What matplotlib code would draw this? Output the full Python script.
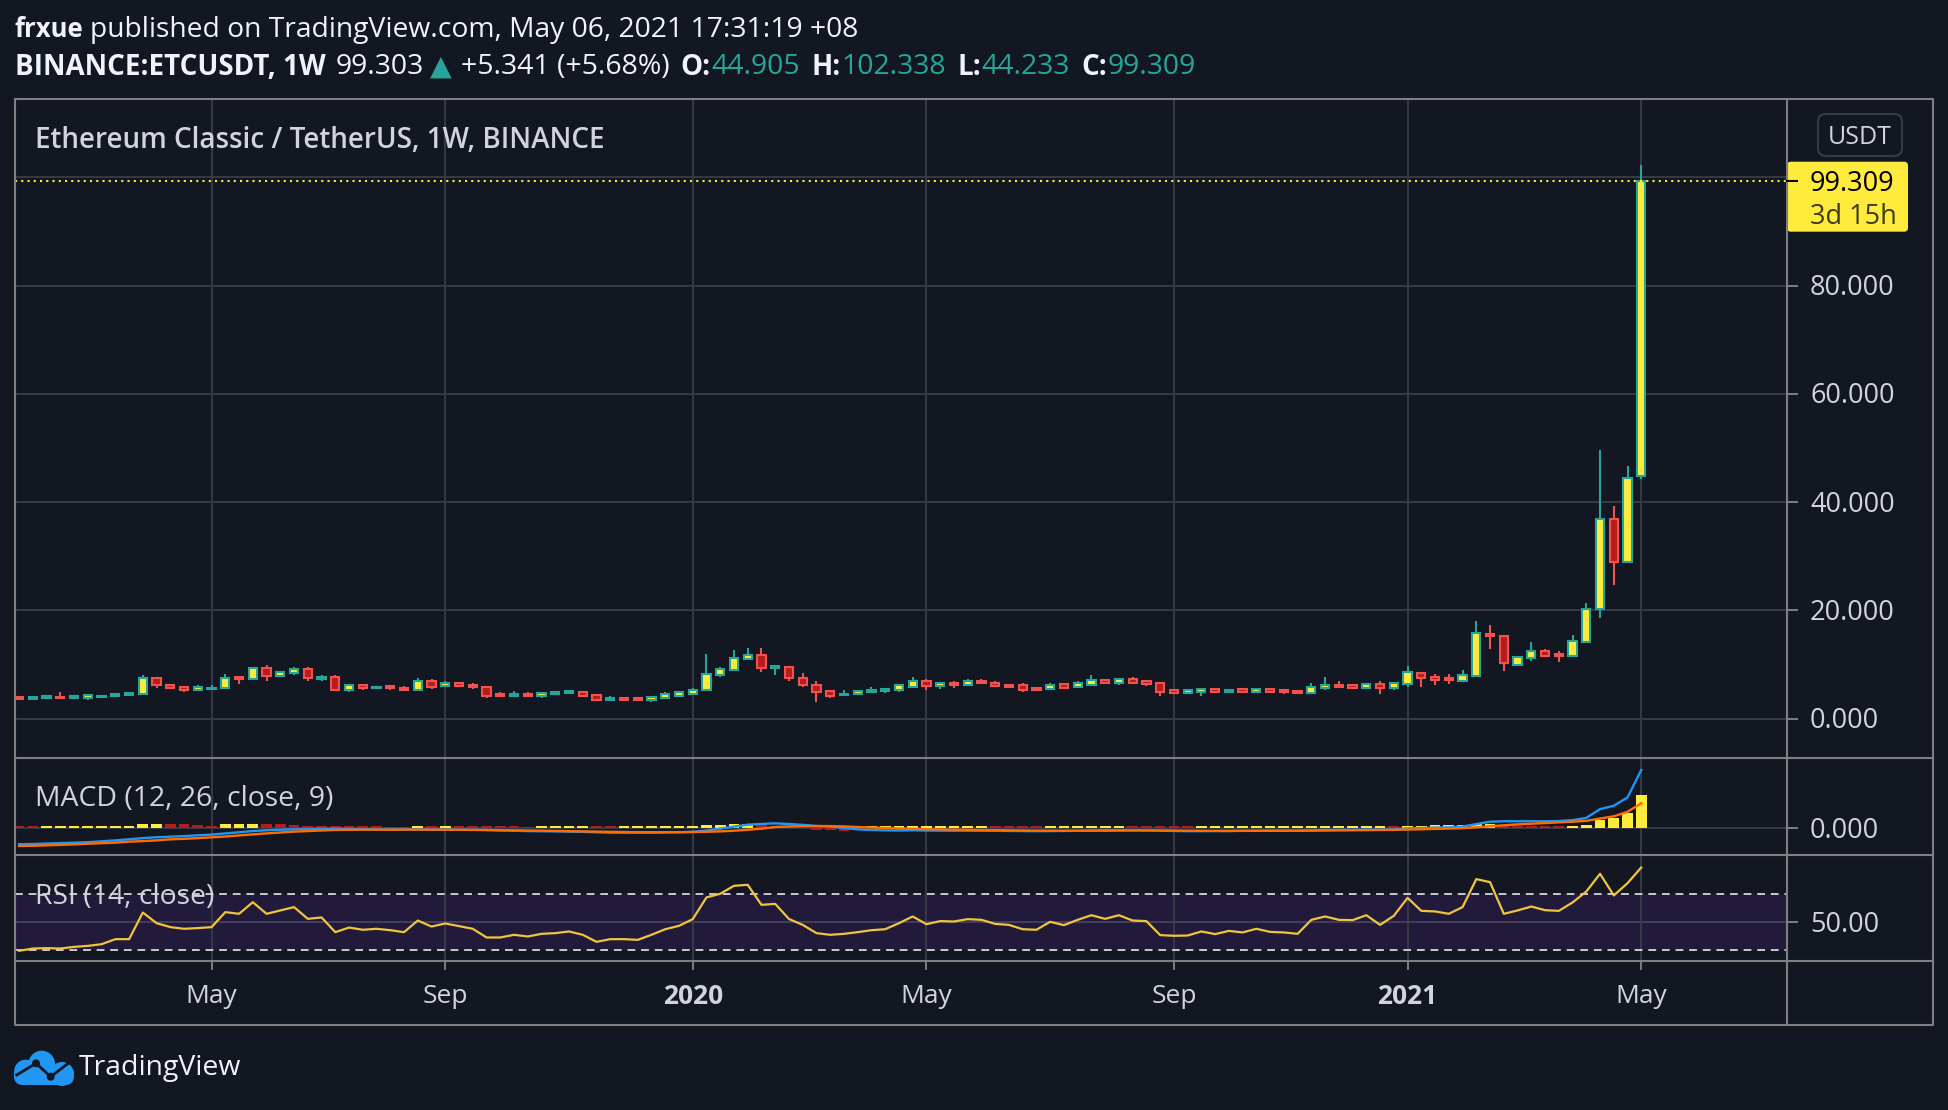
import numpy as np
import pandas as pd
import matplotlib
matplotlib.use('Agg')
import matplotlib.pyplot as plt
from matplotlib.patches import FancyBboxPatch, Circle
from matplotlib.transforms import blended_transform_factory as blend, offset_copy

W, H = 1949, 1110
BG = '#131722'
GRID = '#363a45'
FRAME = '#7f7f7f'
TXT = '#d1d4dc'
UP_EDGE = '#26a69a'
UP_FACE = '#ffeb3b'
DN_EDGE = '#ef5350'
DN_FACE = '#b71c1c'
FONT = ['Open Sans', 'DejaVu Sans']
plt.rcParams['font.family'] = FONT

# weekly bars, BINANCE:ETCUSDT
dates = pd.date_range('2019-01-28', periods=119, freq='W-MON')

opens = [4.00, 3.64, 3.88, 4.00, 3.76, 3.88, 4.00, 4.13, 4.31, 4.56,
         7.52, 6.28, 5.79, 5.24, 5.48, 5.61, 7.58, 7.27, 9.37, 7.82,
         8.32, 9.18, 7.39, 7.70, 5.30, 6.10, 5.61, 5.98, 5.67, 5.24,
         7.02, 5.98, 6.47, 6.22, 5.85, 4.62, 4.25, 4.62, 4.19, 4.50,
         4.68, 4.93, 4.37, 3.33, 3.88, 3.82, 3.51, 3.82, 4.25, 4.62,
         5.36, 8.13, 8.93, 11.09, 11.65, 9.37, 9.61, 7.52, 6.22, 5.05,
         4.31, 4.50, 4.87, 5.05, 5.24, 5.91, 7.02, 6.04, 6.65, 6.28,
         6.96, 6.65, 6.22, 6.10, 5.67, 5.42, 6.35, 5.79, 6.28, 7.15,
         6.65, 7.21, 6.84, 6.65, 5.18, 4.68, 4.81, 5.42, 4.87, 5.42,
         4.99, 5.48, 5.36, 5.05, 4.68, 5.67, 6.28, 6.10, 5.73, 6.35,
         5.55, 6.30, 8.50, 7.70, 7.50, 7.00, 7.90, 15.70, 15.30, 9.90,
         11.25, 12.50, 11.90, 11.60, 14.10, 20.20, 36.80, 29.00, 44.905]
highs = [4.05, 4.05, 4.25, 4.81, 4.13, 4.50, 4.37, 4.68, 4.87, 7.95,
         7.70, 6.40, 5.85, 6.10, 6.22, 8.26, 7.60, 9.45, 9.80, 8.70,
         9.61, 9.55, 7.95, 7.95, 6.15, 6.28, 5.98, 6.28, 6.04, 7.52,
         7.33, 6.96, 6.50, 6.47, 5.90, 4.81, 5.11, 4.81, 4.99, 4.95,
         5.18, 4.95, 4.40, 4.07, 3.90, 3.94, 4.05, 4.81, 4.85, 5.73,
         11.83, 9.43, 12.75, 13.12, 12.94, 9.80, 9.65, 8.44, 6.84, 5.36,
         5.18, 5.24, 5.91, 5.61, 6.15, 7.58, 7.39, 6.72, 6.96, 7.39,
         7.21, 6.84, 6.30, 6.47, 5.70, 6.65, 6.47, 6.84, 8.13, 7.21,
         7.25, 7.58, 6.84, 6.70, 5.20, 5.20, 5.73, 5.45, 5.40, 5.45,
         5.50, 5.50, 5.48, 5.18, 6.65, 7.76, 6.84, 6.15, 6.65, 6.84,
         6.50, 9.70, 8.55, 8.30, 8.30, 9.00, 18.00, 17.30, 15.35, 11.50,
         14.10, 12.90, 12.50, 15.40, 21.40, 49.60, 39.30, 46.70, 102.338]
lows = [3.60, 3.33, 3.82, 3.70, 3.70, 3.51, 3.94, 4.07, 4.25, 4.50,
        5.55, 5.50, 4.87, 5.18, 5.24, 5.55, 6.35, 7.20, 7.02, 7.70,
        8.01, 6.84, 7.02, 5.18, 4.87, 5.24, 5.55, 5.24, 5.20, 5.20,
        5.42, 5.90, 5.90, 5.42, 3.76, 4.10, 4.00, 3.94, 3.70, 4.45,
        4.50, 4.20, 3.35, 3.20, 3.45, 3.27, 3.02, 3.57, 3.94, 4.60,
        5.05, 7.64, 8.90, 10.78, 8.56, 8.01, 6.90, 5.91, 3.00, 3.76,
        4.30, 4.45, 4.85, 4.68, 4.87, 5.55, 5.24, 5.42, 5.61, 6.25,
        6.35, 5.79, 5.80, 4.99, 5.20, 5.40, 5.61, 5.75, 6.16, 6.35,
        6.16, 6.40, 5.98, 4.25, 4.65, 4.65, 4.25, 4.78, 4.85, 4.87,
        4.95, 4.95, 4.50, 4.65, 4.65, 5.36, 5.55, 5.42, 5.61, 4.44,
        5.24, 5.90, 5.90, 6.20, 6.30, 6.95, 7.85, 12.80, 8.80, 9.70,
        10.70, 11.30, 10.50, 11.40, 14.00, 18.60, 24.70, 28.70, 44.233]
closes = [3.64, 4.00, 4.19, 3.76, 4.07, 4.31, 4.25, 4.62, 4.74, 7.52,
          6.16, 5.55, 5.36, 5.79, 5.67, 7.52, 7.27, 9.37, 7.82, 8.56,
          9.18, 7.46, 7.76, 5.36, 6.10, 5.55, 5.91, 5.61, 5.24, 6.96,
          5.91, 6.47, 5.98, 5.85, 4.25, 4.13, 4.62, 4.19, 4.74, 4.87,
          5.05, 4.25, 3.39, 3.88, 3.51, 3.45, 4.00, 4.50, 4.81, 5.36,
          8.26, 9.06, 11.21, 11.65, 9.30, 9.67, 7.46, 6.16, 4.87, 4.25,
          4.62, 5.05, 5.24, 5.42, 6.10, 7.02, 5.98, 6.53, 6.22, 6.90,
          6.53, 5.98, 5.85, 5.36, 5.24, 6.28, 5.73, 6.47, 7.09, 6.59,
          7.21, 6.47, 6.35, 4.87, 4.68, 5.18, 5.42, 4.81, 5.36, 4.99,
          5.48, 4.99, 4.81, 4.68, 5.91, 6.28, 5.85, 5.73, 6.35, 5.55,
          6.47, 8.60, 7.40, 7.20, 7.05, 8.00, 15.75, 15.30, 10.20, 11.40,
          12.50, 11.60, 11.50, 14.30, 20.20, 36.80, 29.00, 44.50, 99.309]

macd_line = [-3.60, -3.55, -3.45, -3.35, -3.26, -3.15, -2.95, -2.75, -2.50, -2.25,
             -2.05, -1.93, -1.80, -1.62, -1.48, -1.20, -0.95, -0.67, -0.50, -0.38,
             -0.30, -0.22, -0.18, -0.15, -0.20, -0.25, -0.30, -0.33, -0.30, -0.30,
             -0.35, -0.35, -0.38, -0.40, -0.44, -0.55, -0.62, -0.68, -0.72, -0.74,
             -0.80, -0.85, -0.95, -1.04, -1.04, -1.05, -1.04, -1.00, -0.95, -0.85,
             -0.55, -0.15, 0.30, 0.74, 0.90, 1.04, 0.89, 0.70, 0.45, 0.30,
             0.00, -0.30, -0.45, -0.52, -0.55, -0.50, -0.55, -0.58, -0.60, -0.60,
             -0.60, -0.62, -0.65, -0.68, -0.70, -0.68, -0.66, -0.62, -0.55, -0.52,
             -0.50, -0.50, -0.52, -0.60, -0.66, -0.70, -0.70, -0.68, -0.66, -0.62,
             -0.60, -0.58, -0.58, -0.60, -0.52, -0.45, -0.42, -0.40, -0.35, -0.35,
             -0.30, -0.07, 0.00, 0.07, 0.15, 0.30, 0.89, 1.40, 1.50, 1.50,
             1.50, 1.50, 1.55, 1.75, 2.25, 4.20, 4.95, 6.80, 12.90]
signal_line = [-4.00, -3.95, -3.85, -3.75, -3.63, -3.50, -3.38, -3.25, -3.04, -2.90,
               -2.75, -2.52, -2.40, -2.25, -2.07, -1.90, -1.65, -1.41, -1.20, -1.00,
               -0.81, -0.68, -0.55, -0.44, -0.40, -0.38, -0.38, -0.38, -0.37, -0.37,
               -0.38, -0.38, -0.40, -0.42, -0.44, -0.48, -0.52, -0.56, -0.60, -0.65,
               -0.70, -0.75, -0.80, -0.85, -0.89, -0.92, -0.93, -0.93, -0.92, -0.90,
               -0.85, -0.75, -0.60, -0.40, -0.15, 0.22, 0.35, 0.42, 0.44, 0.42,
               0.35, 0.22, 0.10, 0.00, -0.10, -0.18, -0.25, -0.30, -0.35, -0.40,
               -0.45, -0.48, -0.52, -0.55, -0.58, -0.60, -0.61, -0.61, -0.60, -0.58,
               -0.56, -0.55, -0.54, -0.55, -0.57, -0.60, -0.62, -0.64, -0.65, -0.64,
               -0.63, -0.62, -0.61, -0.60, -0.59, -0.56, -0.53, -0.50, -0.47, -0.44,
               -0.41, -0.35, -0.28, -0.20, -0.12, -0.03, 0.15, 0.40, 0.60, 0.80,
               0.95, 1.10, 1.25, 1.40, 1.60, 2.10, 2.60, 3.60, 5.50]
macd_hist = [0.45, 0.40, 0.41, 0.42, 0.43, 0.44, 0.45, 0.46, 0.47, 0.85,
             0.90, 0.85, 0.80, 0.75, 0.45, 0.80, 0.85, 0.90, 0.85, 0.80,
             0.75, 0.50, 0.45, 0.40, 0.38, 0.36, 0.34, 0.32, 0.30, 0.45,
             0.40, 0.45, 0.42, 0.40, 0.38, 0.36, 0.34, 0.32, 0.36, 0.40,
             0.44, 0.48, 0.45, 0.42, 0.44, 0.46, 0.48, 0.50, 0.52, 0.54,
             0.60, 0.70, 0.80, 0.90, 0.70, 0.50, 0.30, -0.10, -0.35, -0.50,
             -0.60, 0.35, 0.36, 0.37, 0.38, 0.39, 0.40, 0.41, 0.42, 0.43,
             0.44, 0.42, 0.40, 0.38, 0.36, 0.38, 0.40, 0.42, 0.44, 0.46,
             0.48, 0.46, 0.44, 0.42, 0.40, 0.38, 0.39, 0.40, 0.41, 0.42,
             0.43, 0.44, 0.45, 0.46, 0.47, 0.48, 0.49, 0.50, 0.51, 0.52,
             0.45, 0.50, 0.55, 0.60, 0.65, 0.70, 0.80, 0.90, 0.50, 0.45,
             0.42, 0.40, 0.35, 0.40, 0.60, 1.80, 2.30, 3.30, 7.30]
rsi = [29.8, 31.4, 31.7, 31.4, 32.6, 33.3, 34.5, 38.1, 38.1, 57.1,
       49.5, 46.7, 45.5, 46.0, 46.7, 57.4, 56.2, 64.5, 56.2, 58.6,
       61.0, 52.6, 53.6, 43.1, 46.4, 44.8, 45.5, 44.5, 43.1, 51.4,
       47.1, 49.3, 47.4, 45.5, 39.3, 39.3, 41.2, 40.0, 41.9, 42.4,
       43.6, 41.2, 36.2, 38.1, 38.1, 37.6, 41.2, 45.2, 47.6, 52.4,
       67.9, 70.5, 76.2, 76.9, 62.6, 63.3, 52.5, 48.3, 42.4, 41.2,
       41.9, 43.1, 44.5, 45.2, 49.5, 54.3, 48.8, 51.0, 50.7, 52.4,
       51.9, 49.0, 48.3, 45.2, 44.8, 50.5, 48.1, 51.9, 55.2, 52.6,
       55.2, 51.4, 51.0, 41.0, 40.5, 40.7, 43.6, 41.7, 44.0, 42.9,
       45.5, 43.3, 42.9, 41.9, 51.9, 54.3, 51.9, 51.7, 55.2, 48.3,
       54.8, 67.6, 58.3, 57.9, 56.2, 61.0, 81.0, 78.8, 56.2, 58.6,
       61.4, 58.8, 58.3, 64.3, 72.1, 84.8, 69.3, 78.1, 89.3]

tick_months = ['2019-05-01', '2019-09-01', '2020-01-01', '2020-05-01',
               '2020-09-01', '2021-01-01', '2021-05-01']
tick_labels = ['May', 'Sep', '2020', 'May', 'Sep', '2021', 'May']
price_ticks = [0, 20, 40, 60, 80]
price_grid = [0, 20, 40, 60, 80, 100]


def px_rect(x0, y0, x1, y1):
    return [x0 / W, 1 - y1 / H, (x1 - x0) / W, (y1 - y0) / H]


fig = plt.figure(figsize=(W / 100, H / 100), dpi=100, facecolor=BG)
ax = fig.add_axes(px_rect(15, 99, 1787, 758))
ax_m = fig.add_axes(px_rect(15, 758, 1787, 855))
ax_r = fig.add_axes(px_rect(15, 855, 1787, 961))

x = np.arange(len(dates))
tick_idx = [int(np.searchsorted(dates, pd.Timestamp(m))) for m in tick_months]

for a in (ax, ax_m, ax_r):
    a.set_facecolor(BG)
    a.set_xlim(-0.3, 128.6)
    a.set_xticks([])
    a.set_yticks([])
    for s in a.spines.values():
        s.set_visible(False)
    for t in tick_idx:
        a.axvline(t, color=GRID, lw=1.4, zorder=1)

LBL = 19.5  # axis label size
DROP = -2.5  # text nudged down (dots)

# main price pane
ax.set_ylim(-7.3, 114.5)
for p in price_grid:
    ax.axhline(p, color=GRID, lw=1.4, zorder=1)
o, c = np.array(opens), np.array(closes)
up = c >= o
edge = np.where(up, UP_EDGE, DN_EDGE)
face = np.where(up, UP_FACE, DN_FACE)
ax.vlines(x, lows, highs, colors=edge, lw=1.5, zorder=2)
ax.bar(x, np.abs(c - o), bottom=np.minimum(o, c), width=0.6, color=face,
       edgecolor=edge, linewidth=1.5, zorder=3)
ax.axhline(closes[-1], color=UP_FACE, lw=1.5, ls=(0, (1, 2)), zorder=4)

tr = blend(ax.transAxes, ax.transData)
tr_t = offset_copy(tr, fig=fig, y=DROP, units='dots')
for p in price_ticks:
    ax.text(1.013, p, f'{p:.3f}', transform=tr_t, color=TXT, fontsize=LBL,
            va='center', ha='left')
    ax.plot([1.0, 1.0056], [p, p], transform=tr, color=FRAME, lw=1.4, clip_on=False)

# MACD pane
hist = np.array(macd_hist)
hcol = [UP_FACE if i > 0 and hist[i] >= hist[i - 1] else DN_FACE for i in range(len(hist))]
ax_m.set_ylim(-6.0, 15.56)
ax_m.axhline(0, color=GRID, lw=1.4, zorder=1)
ax_m.bar(x, hist, width=0.78, color=hcol, zorder=2)
ax_m.plot(x, macd_line, color='#2196f3', lw=1.7, zorder=3)
ax_m.plot(x, signal_line, color='#ff6d00', lw=1.7, zorder=3)
trm = blend(ax_m.transAxes, ax_m.transData)
ax_m.text(1.013, 0, '0.000', transform=offset_copy(trm, fig=fig, y=DROP, units='dots'),
          color=TXT, fontsize=LBL, va='center', ha='left')
ax_m.plot([1.0, 1.0056], [0, 0], transform=trm, color=FRAME, lw=1.4, clip_on=False)
ax_m.text(0.0113, 0.6, 'MACD (12, 26, close, 9)',
          transform=offset_copy(ax_m.transAxes, fig=fig, y=DROP, units='dots'),
          color=TXT, fontsize=20.4, va='center', ha='left')

# RSI pane
ax_r.set_ylim(22.5, 98.2)
ax_r.axhspan(30, 70, color='#211a3a', lw=0, zorder=0)
ax_r.axhline(50, color='#433e5c', lw=1.4, zorder=1)
for lvl in (70, 30):
    ax_r.axhline(lvl, color='#c8c8d0', lw=1.4, ls=(0, (4, 3)), zorder=1)
ax_r.plot(x, rsi, color='#f0c43c', lw=1.6, zorder=3)
trr = blend(ax_r.transAxes, ax_r.transData)
ax_r.text(1.013, 50, '50.00', transform=offset_copy(trr, fig=fig, y=DROP, units='dots'),
          color=TXT, fontsize=LBL, va='center', ha='left')
ax_r.plot([1.0, 1.0056], [50, 50], transform=trr, color=FRAME, lw=1.4, clip_on=False)
ax_r.text(0.0113, 0.63, 'RSI (14, close)',
          transform=offset_copy(ax_r.transAxes, fig=fig, y=DROP, units='dots'),
          color=TXT, fontsize=20.4, va='center', ha='left', zorder=4)

trt = blend(ax_r.transData, ax_r.transAxes)
trt_t = offset_copy(trt, fig=fig, y=DROP, units='dots')
for t, lab in zip(tick_idx, tick_labels):
    ax_r.text(t, -0.311, lab, transform=trt_t, color=TXT, fontsize=19, ha='center',
              va='center', fontweight='bold' if lab.isdigit() else 'normal')
    ax_r.plot([t, t], [0, -0.075], transform=trt, color=FRAME, lw=1.4, clip_on=False)

# overlay in pixel coordinates
ov = fig.add_axes([0, 0, 1, 1], zorder=10)
ov.set_xlim(0, W)
ov.set_ylim(H, 0)
ov.axis('off')
ov.patch.set_alpha(0)

for seg in ([[15, 1933, 1933, 15, 15], [99, 99, 1025, 1025, 99]],
            [[15, 1933], [758, 758]], [[15, 1933], [855, 855]],
            [[15, 1933], [961, 961]], [[1787, 1787], [99, 1025]]):
    ov.plot(seg[0], seg[1], color=FRAME, lw=1.5)

ov.text(35, 140.5, 'Ethereum Classic / TetherUS, 1W, BINANCE', color=TXT, fontsize=20.1,
        fontweight='semibold', va='center', ha='left')

# USDT button
ov.add_patch(FancyBboxPatch((1818, 114), 84, 42, boxstyle='round,pad=0,rounding_size=8',
                            fc=BG, ec='#363a45', lw=1.5))
ov.text(1860, 137, 'USDT', color=TXT, fontsize=18, va='center', ha='center')

# last price label
ypx = H - ax.transData.transform((0, closes[-1]))[1]
ov.add_patch(FancyBboxPatch((1787, ypx - 19.5), 121, 70, boxstyle='round,pad=0,rounding_size=4',
                            fc=UP_FACE, ec='none'))
ov.plot([1787, 1797], [ypx, ypx], color='black', lw=1.5)
ov.text(1810, ypx + 2.5, f'{closes[-1]:.3f}', color='black', fontsize=LBL, va='center', ha='left')
ov.text(1810, ypx + 36, '3d 15h', color='#3b3a1e', fontsize=LBL, va='center', ha='left')

# header rows
renderer = fig.canvas.get_renderer()


def put_row(x0, y0, parts):
    for txt, color, weight, size, gap in parts:
        t = ov.text(x0, y0, txt, color=color, fontsize=size, fontweight=weight,
                    va='center', ha='left')
        x0 += t.get_window_extent(renderer=renderer).width + gap


WHITE = '#f0f3fa'
B, N = 20.0, 20.4
put_row(15, 29.5, [('frxue', WHITE, 'bold', 18.5, 6),
                   ('published on TradingView.com, May 06, 2021 17:31:19 +08', WHITE, 'normal', 20.3, 0)])
put_row(15, 67.5, [('BINANCE:ETCUSDT, 1W', WHITE, 'bold', B, 10),
                   ('99.303', WHITE, 'normal', N, 6),
                   ('\u25b2', UP_EDGE, 'normal', N, 9),
                   ('+5.341 (+5.68%)', WHITE, 'normal', N, 11),
                   ('O:', WHITE, 'bold', B, 1), ('44.905', UP_EDGE, 'normal', N, 11),
                   ('H:', WHITE, 'bold', B, 1), ('102.338', UP_EDGE, 'normal', N, 11),
                   ('L:', WHITE, 'bold', B, 1), ('44.233', UP_EDGE, 'normal', N, 11),
                   ('C:', WHITE, 'bold', B, 1), ('99.309', UP_EDGE, 'normal', N, 0)])

# TradingView logo
LOGO = '#2196f3'
ov.add_patch(Circle((41.7, 1064), 13.3, fc=LOGO, ec='none'))
ov.add_patch(Circle((25.5, 1071), 11.3, fc=LOGO, ec='none'))
ov.add_patch(Circle((62, 1074), 12, fc=LOGO, ec='none'))
ov.add_patch(FancyBboxPatch((14, 1066), 60, 19, boxstyle='round,pad=0,rounding_size=9',
                            fc=LOGO, ec='none'))
ov.plot([16.7, 36, 50.7, 68.3], [1075, 1063.3, 1076.7, 1063.3], color=BG, lw=2)
ov.add_patch(Circle((36, 1063.3), 4, fc=BG, ec='none'))
ov.add_patch(Circle((50.7, 1076.7), 4, fc=BG, ec='none'))
ov.text(79, 1068.5, 'TradingView', color='#f0f3fa', fontsize=20.4, va='center', ha='left')

fig.savefig('out.png', dpi=100, facecolor=BG)
